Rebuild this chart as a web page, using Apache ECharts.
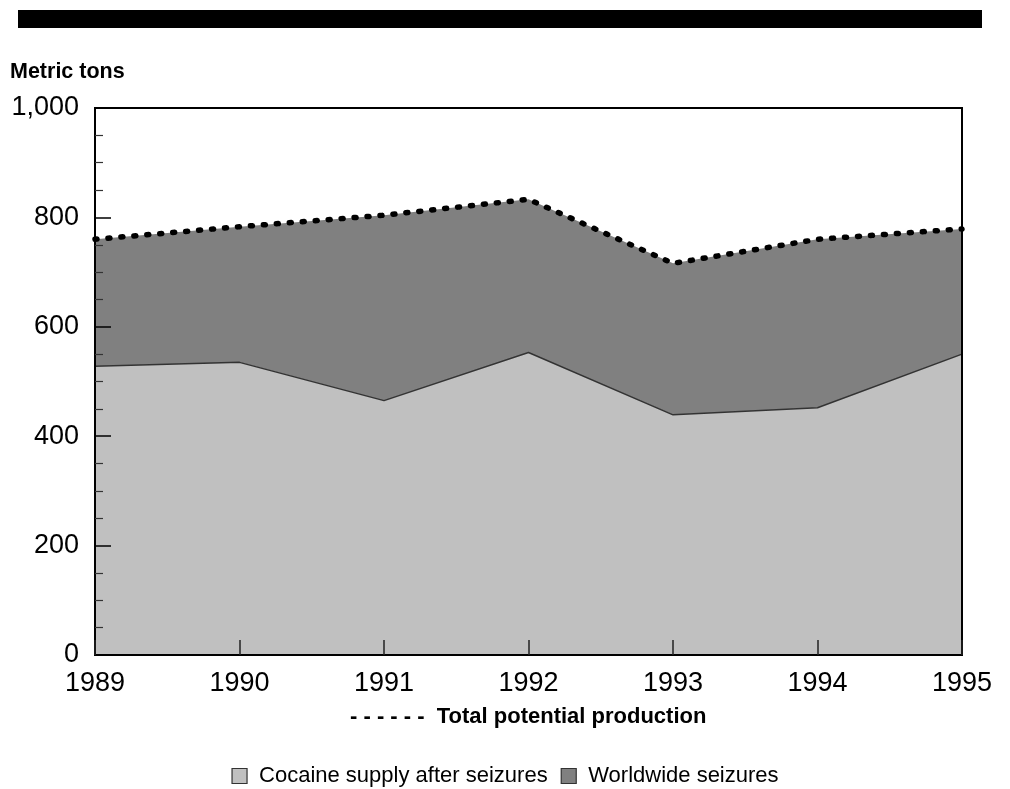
<!DOCTYPE html>
<html>
<head>
<meta charset="utf-8">
<script src="https://cdn.jsdelivr.net/npm/echarts@6/dist/echarts.min.js"></script>
<style>
html,body{margin:0;padding:0;background:#fff;}
#chart{width:1010px;height:789px;}
</style>
</head>
<body>
<div id="chart"></div>
<script>
const years = ['1989', '1990', '1991', '1992', '1993', '1994', '1995'];
const supplyAfterSeizures = [528, 535, 465, 553, 439, 452, 550];
const totalPotentialProduction = [760, 783, 804, 833, 716, 760, 779];
const seriesNames = ['Cocaine supply after seizures', 'Worldwide seizures'];
const yTicks = [0, 200, 400, 600, 800, 1000];

const worldwideSeizures = totalPotentialProduction.map((t, i) => t - supplyAfterSeizures[i]);

const FONT = '"Liberation Sans", Arial, Helvetica, sans-serif';
const chart = echarts.init(document.getElementById('chart'), null, {renderer: 'canvas'});

chart.setOption({
  animation: false,
  backgroundColor: '#fff',
  textStyle: {fontFamily: FONT},
  grid: {
    left: 95, right: 48, top: 108, bottom: 134,
    show: true, borderColor: '#000', borderWidth: 2, backgroundColor: 'transparent', z: 10
  },
  graphic: [
    {type: 'rect', shape: {x: 18, y: 10, width: 964, height: 18}, style: {fill: '#000'}},
    {type: 'text', left: 10, top: 61, style: {text: 'Metric tons', font: 'bold 21.5px ' + FONT, fill: '#000'}},
    {type: 'text', left: 350, top: 706, style: {text: '- - - - - -  Total potential production', font: 'bold 22px ' + FONT, fill: '#000'}}
  ],
  legend: {
    data: seriesNames,
    left: 'center',
    top: 760,
    icon: 'rect',
    itemWidth: 15,
    itemHeight: 15,
    itemGap: 13,
    textStyle: {fontSize: 22, color: '#000', fontFamily: FONT, padding: [0, 0, 0, 7]},
    itemStyle: {borderColor: '#333', borderWidth: 1.2}
  },
  xAxis: {
    type: 'category',
    data: years,
    boundaryGap: false,
    z: 10,
    axisLine: {lineStyle: {color: '#000', width: 2}},
    axisTick: {inside: true, length: 15, lineStyle: {color: '#222', width: 1.5}},
    axisLabel: {fontSize: 27, color: '#000', margin: 15, fontFamily: FONT},
    splitLine: {show: false}
  },
  yAxis: {
    type: 'value',
    min: 0, max: 1000, interval: 200,
    z: 10,
    axisLine: {show: true, lineStyle: {color: '#000', width: 2}},
    axisTick: {show: true, inside: true, length: 16, lineStyle: {color: '#000', width: 1.5}},
    minorTick: {show: true, splitNumber: 4, length: 8, lineStyle: {color: '#333', width: 1.2}},
    axisLabel: {
      fontSize: 27, color: '#000', margin: 16, fontFamily: FONT, padding: [7, 0, 0, 0],
      formatter: v => yTicks.includes(v) ? v.toLocaleString('en-US') : ''
    },
    splitLine: {show: false}
  },
  series: [
    {
      name: seriesNames[0],
      type: 'line',
      stack: 'total',
      data: supplyAfterSeizures,
      symbol: 'none',
      z: 3,
      lineStyle: {color: '#333', width: 1.5},
      itemStyle: {color: '#c0c0c0'},
      areaStyle: {color: '#c0c0c0', opacity: 1}
    },
    {
      name: seriesNames[1],
      type: 'line',
      stack: 'total',
      data: worldwideSeizures,
      symbol: 'none',
      z: 2,
      lineStyle: {color: '#000', width: 5.5, type: [2, 11], cap: 'round', join: 'round'},
      itemStyle: {color: '#808080'},
      areaStyle: {color: '#808080', opacity: 1}
    }
  ]
});
</script>
</body>
</html>
